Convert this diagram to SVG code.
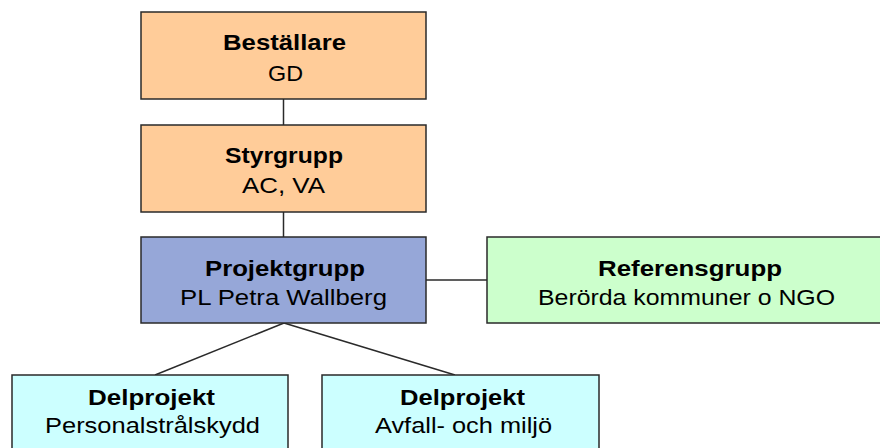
<svg xmlns="http://www.w3.org/2000/svg" width="880" height="448" viewBox="0 0 880 448">
  <style>
    .box { stroke: #2a2a2a; stroke-width: 1.5; }
    .orange { fill: #FFCC99; }
    .blue { fill: #96A7D8; }
    .green { fill: #CCFFCC; }
    .cyan { fill: #CCFFFF; }
    text { font-family: "Liberation Sans", Arial, sans-serif; font-size: 22px; fill: #000; text-anchor: middle; }
    .t { font-weight: bold; }
    .conn { stroke: #2a2a2a; stroke-width: 1.5; fill: none; }
  </style>
  <rect width="880" height="448" fill="#ffffff"/>
  <g id="connectors">
    <line class="conn" x1="283.5" y1="99" x2="283.5" y2="125"/>
    <line class="conn" x1="283.5" y1="212" x2="283.5" y2="237"/>
    <line class="conn" x1="426" y1="280" x2="487" y2="280"/>
    <line class="conn" x1="284" y1="323" x2="155" y2="375"/>
    <line class="conn" x1="284" y1="323" x2="455" y2="375"/>
  </g>
  <g id="bestallare">
    <rect class="box orange" x="141" y="12" width="285" height="87"/>
    <text class="t" x="284.5" y="50" textLength="123" lengthAdjust="spacingAndGlyphs">Beställare</text>
    <text x="285.5" y="81" textLength="35" lengthAdjust="spacingAndGlyphs">GD</text>
  </g>
  <g id="styrgrupp">
    <rect class="box orange" x="141" y="125" width="285" height="87"/>
    <text class="t" x="284" y="163" textLength="118" lengthAdjust="spacingAndGlyphs">Styrgrupp</text>
    <text x="283.5" y="193" textLength="83" lengthAdjust="spacingAndGlyphs">AC, VA</text>
  </g>
  <g id="projektgrupp">
    <rect class="box blue" x="141" y="237" width="285" height="86"/>
    <text class="t" x="285" y="276" textLength="160" lengthAdjust="spacingAndGlyphs">Projektgrupp</text>
    <text x="283.5" y="305" textLength="207" lengthAdjust="spacingAndGlyphs">PL Petra Wallberg</text>
  </g>
  <g id="referensgrupp">
    <rect class="box green" x="487" y="237" width="396" height="86"/>
    <text class="t" x="690" y="276" textLength="184" lengthAdjust="spacingAndGlyphs">Referensgrupp</text>
    <text x="686.5" y="305" textLength="297" lengthAdjust="spacingAndGlyphs">Berörda kommuner o NGO</text>
  </g>
  <g id="delprojekt1">
    <rect class="box cyan" x="12" y="375" width="276" height="80"/>
    <text class="t" x="151.5" y="405" textLength="127" lengthAdjust="spacingAndGlyphs">Delprojekt</text>
    <text x="152.5" y="433" textLength="215" lengthAdjust="spacingAndGlyphs">Personalstrålskydd</text>
  </g>
  <g id="delprojekt2">
    <rect class="box cyan" x="322" y="375" width="277" height="80"/>
    <text class="t" x="462.5" y="405" textLength="125" lengthAdjust="spacingAndGlyphs">Delprojekt</text>
    <text x="463.5" y="433" textLength="177" lengthAdjust="spacingAndGlyphs">Avfall- och miljö</text>
  </g>
</svg>
